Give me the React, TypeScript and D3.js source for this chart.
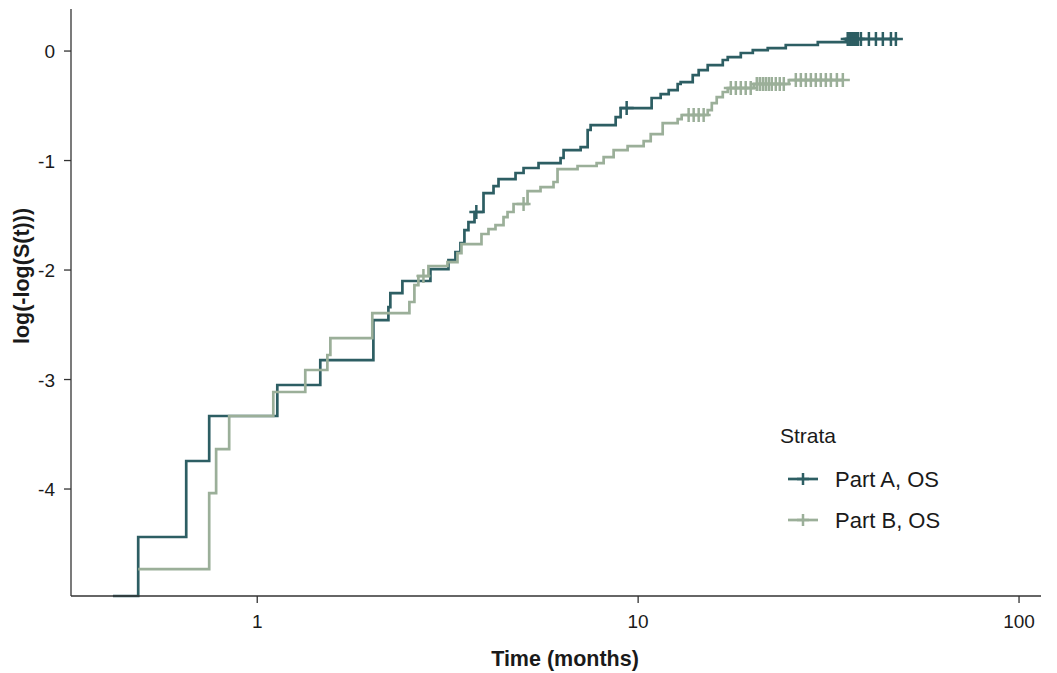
import React from "react";
import * as d3 from "d3";

// ---- data ----
const partATime = [0.418, 0.487, 0.651, 0.748, 1.129, 1.464, 2.018, 2.210, 2.236, 2.405, 2.849, 3.177, 3.314, 3.416, 3.499, 3.585, 3.719, 3.927, 4.172, 4.300, 4.766, 5.003, 5.477, 6.257, 6.372, 7.064, 7.370, 7.504, 8.730, 8.995, 10.85, 11.46, 12.03, 12.70, 12.93, 13.91, 14.42, 15.23, 16.68, 17.19, 18.60, 20.00, 21.89, 24.41, 29.63, 35.11];
const partAValue = [-4.977, -4.438, -3.744, -3.333, -3.050, -2.822, -2.457, -2.338, -2.210, -2.100, -1.991, -1.909, -1.836, -1.753, -1.635, -1.562, -1.470, -1.297, -1.233, -1.169, -1.114, -1.068, -1.023, -0.977, -0.904, -0.877, -0.721, -0.676, -0.603, -0.521, -0.429, -0.393, -0.356, -0.301, -0.283, -0.219, -0.174, -0.128, -0.082, -0.055, -0.018, 0.009, 0.027, 0.055, 0.082, 0.110];
const partACensor = [3.76, 9.33, 35.5, 35.96, 36.4, 36.85, 37.3, 37.76, 38.45, 40.35, 42.1, 43.9, 46.1, 47.5];

const partBTime = [0.487, 0.748, 0.780, 0.844, 1.102, 1.337, 1.528, 1.556, 2.005, 2.509, 2.586, 2.649, 2.815, 3.158, 3.355, 3.437, 3.879, 4.047, 4.222, 4.432, 4.541, 4.709, 5.125, 5.543, 5.996, 6.143, 6.934, 7.781, 8.118, 8.623, 9.384, 10.34, 10.79, 11.60, 12.70, 13.01, 15.23, 15.61, 16.08, 16.68, 17.19, 20.12, 24.86];
const partBValue = [-4.731, -4.037, -3.635, -3.333, -3.114, -2.913, -2.776, -2.621, -2.393, -2.292, -2.137, -2.055, -1.963, -1.927, -1.845, -1.763, -1.671, -1.626, -1.589, -1.516, -1.470, -1.397, -1.279, -1.242, -1.196, -1.078, -1.050, -1.023, -0.968, -0.904, -0.868, -0.822, -0.758, -0.658, -0.621, -0.584, -0.539, -0.475, -0.420, -0.374, -0.338, -0.301, -0.265];
const partBCensor = [2.731, 5.003, 13.57, 13.99, 14.42, 14.86, 17.51, 18.05, 18.60, 19.16, 19.75, 20.49, 20.86, 21.25, 21.63, 22.03, 22.43, 22.98, 23.54, 24.12, 25.94, 26.74, 27.56, 28.41, 29.27, 30.17, 31.10, 32.06, 33.25, 34.47];

const xTicks = [1, 10, 100];
const yTicks = [0, -1, -2, -3, -4];
const strataLabels = ["Part A, OS", "Part B, OS"];
const strataColors = ["#2D5E63", "#9BAF99"];

const xDomain = [0.3244, 114.2];
const yDomain = [-4.977, 0.384];

const W = 1057;
const H = 673;
const left = 71, right = 1041, top = 9, bottom = 596;
const FONT = "'Liberation Sans', Arial, sans-serif";

function valueAt(times: number[], vals: number[], t: number) {
  const i = d3.bisectRight(times, t) - 1;
  return vals[Math.max(0, i)];
}

export default function App() {
  const x = d3.scaleLog().domain(xDomain).range([left, right]);
  const y = d3.scaleLinear().domain(yDomain).range([bottom, top]);
  const line = d3
    .line<[number, number]>()
    .x((d) => x(d[0]))
    .y((d) => y(d[1]))
    .curve(d3.curveStepAfter);

  const series = [
    { times: partATime, vals: partAValue, cens: partACensor, color: strataColors[0] },
    { times: partBTime, vals: partBValue, cens: partBCensor, color: strataColors[1] },
  ];

  const plus = (cx: number, cy: number, h: number) =>
    `M${cx - h},${cy}h${2 * h}M${cx},${cy - h}v${2 * h}`;

  return (
    <svg
      width={W}
      height={H}
      style={{ position: "absolute", left: 0, top: 0, background: "#fff" }}
      fontFamily={FONT}
    >
      <rect width={W} height={H} fill="#fff" />
      {series.map((s, k) => {
        const end = d3.max(s.cens) as number;
        const pts: [number, number][] = s.times.map((t, i) => [t, s.vals[i]]);
        pts.push([end, s.vals[s.vals.length - 1]]);
        return (
          <g key={k}>
            <path d={line(pts) || ""} fill="none" stroke={s.color} strokeWidth={2.7} />
            {s.cens.map((c, i) => (
              <path
                key={i}
                d={plus(x(c), y(valueAt(s.times, s.vals, c)), 7)}
                stroke={s.color}
                strokeWidth={2.5}
                fill="none"
              />
            ))}
          </g>
        );
      })}
      {/* axes */}
      <line x1={left} x2={left} y1={top} y2={bottom} stroke="#333" strokeWidth={1.3} />
      <line x1={left} x2={right} y1={bottom} y2={bottom} stroke="#333" strokeWidth={1.3} />
      {yTicks.map((v) => (
        <g key={v}>
          <line x1={left - 7} x2={left} y1={y(v)} y2={y(v)} stroke="#333" strokeWidth={1.3} />
          <text x={55} y={y(v) + 7} textAnchor="end" fontSize={19} fill="#1a1a1a">
            {v}
          </text>
        </g>
      ))}
      {xTicks.map((t) => (
        <g key={t}>
          <line x1={x(t)} x2={x(t)} y1={bottom} y2={bottom + 7} stroke="#333" strokeWidth={1.3} />
          <text x={x(t)} y={628} textAnchor="middle" fontSize={19} fill="#1a1a1a">
            {t}
          </text>
        </g>
      ))}
      <text x={565} y={666} textAnchor="middle" fontSize={21.5} fontWeight="bold" fill="#1a1a1a">
        Time (months)
      </text>
      <text
        transform={`translate(29,276) rotate(-90)`}
        textAnchor="middle"
        fontSize={21.5}
        fontWeight="bold"
        fill="#1a1a1a"
      >
        log(-log(S(t)))
      </text>
      {/* legend */}
      <text x={780} y={443} fontSize={21} fill="#1a1a1a">
        Strata
      </text>
      {strataLabels.map((lab, i) => {
        const cy = 479 + i * 41;
        return (
          <g key={lab}>
            <line x1={788} x2={818} y1={cy} y2={cy} stroke={strataColors[i]} strokeWidth={2.7} />
            <path d={plus(803, cy, 6)} stroke={strataColors[i]} strokeWidth={2.5} fill="none" />
            <text x={835} y={cy + 8} fontSize={22} fill="#1a1a1a">
              {lab}
            </text>
          </g>
        );
      })}
    </svg>
  );
}
